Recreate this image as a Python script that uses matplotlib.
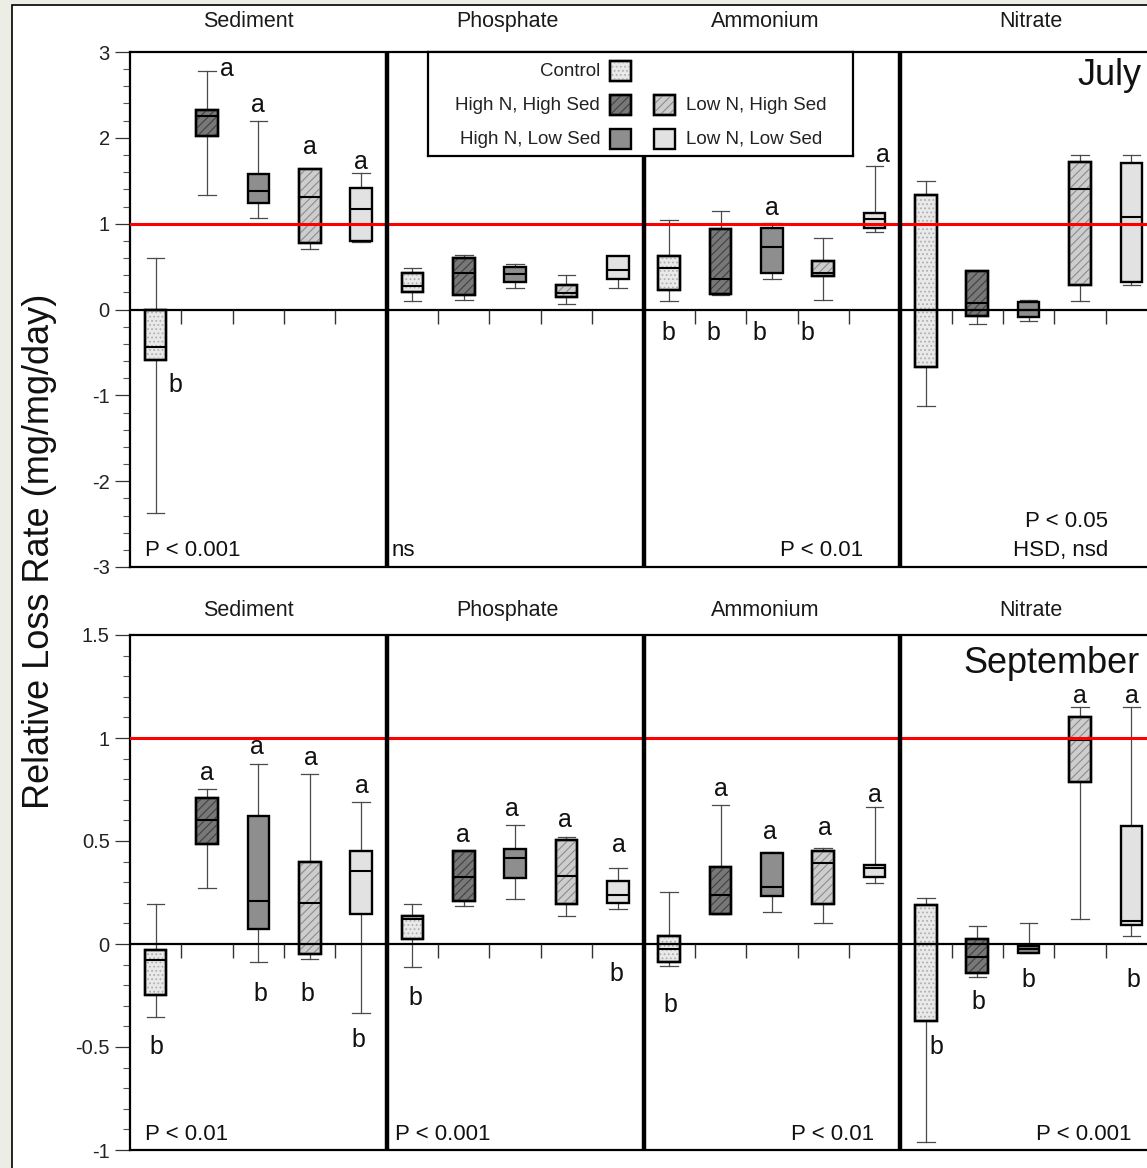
import matplotlib
matplotlib.use('Agg')
import matplotlib.pyplot as plt
import matplotlib.transforms as mtransforms
from matplotlib.patches import Rectangle, PathPatch
from matplotlib.ticker import MultipleLocator, FuncFormatter

plt.rcParams['font.family'] = ['Liberation Sans', 'DejaVu Sans']
plt.rcParams['hatch.linewidth'] = 0.8

groups = ['Sediment', 'Phosphate', 'Ammonium', 'Nitrate']
treatments = ['Control', 'High N, High Sed', 'High N, Low Sed',
              'Low N, High Sed', 'Low N, Low Sed']

# box stats per treatment: [whisker low, q1, median, q3, whisker high]
july_sediment = [[-2.37, -0.59, -0.44, -0.01, 0.60], [1.33, 2.02, 2.25, 2.32, 2.78],
                 [1.07, 1.245, 1.38, 1.575, 2.20], [0.71, 0.77, 1.31, 1.64, 1.64],
                 [0.79, 0.795, 1.17, 1.42, 1.59]]
july_phosphate = [[0.10, 0.20, 0.27, 0.42, 0.48], [0.11, 0.17, 0.43, 0.60, 0.63],
                  [0.255, 0.32, 0.41, 0.49, 0.535], [0.06, 0.15, 0.19, 0.28, 0.40],
                  [0.245, 0.35, 0.465, 0.62, 0.62]]
july_ammonium = [[0.095, 0.23, 0.48, 0.62, 1.04], [0.17, 0.185, 0.355, 0.94, 1.145],
                 [0.36, 0.425, 0.73, 0.955, 1.01], [0.11, 0.39, 0.43, 0.57, 0.83],
                 [0.90, 0.95, 1.06, 1.13, 1.67]]
july_nitrate = [[-1.12, -0.67, 0.0, 1.33, 1.50], [-0.165, -0.07, 0.07, 0.445, 0.445],
                [-0.13, -0.09, -0.01, 0.09, 0.11], [0.095, 0.29, 1.40, 1.72, 1.80],
                [0.29, 0.32, 1.08, 1.71, 1.80]]

sept_sediment = [[-0.356, -0.248, -0.078, -0.03, 0.193], [0.273, 0.485, 0.602, 0.707, 0.751],
                 [-0.089, 0.073, 0.21, 0.621, 0.874], [-0.074, -0.049, 0.20, 0.397, 0.824],
                 [-0.333, 0.144, 0.356, 0.45, 0.69]]
sept_phosphate = [[-0.11, 0.023, 0.121, 0.137, 0.194], [0.186, 0.21, 0.327, 0.451, 0.451],
                  [0.218, 0.319, 0.419, 0.46, 0.578], [0.136, 0.194, 0.332, 0.505, 0.518],
                  [0.17, 0.20, 0.24, 0.307, 0.367]]
sept_ammonium = [[-0.107, -0.086, -0.024, 0.04, 0.251], [0.144, 0.144, 0.238, 0.372, 0.675],
                 [0.157, 0.234, 0.275, 0.44, 0.448], [0.10, 0.193, 0.395, 0.453, 0.468],
                 [0.295, 0.324, 0.37, 0.383, 0.663]]
sept_nitrate = [[-0.96, -0.372, 0.0, 0.189, 0.222], [-0.159, -0.142, -0.062, 0.023, 0.089],
                [-0.045, -0.042, -0.024, -0.008, 0.10], [0.121, 0.785, 0.99, 1.103, 1.149],
                [0.04, 0.092, 0.113, 0.573, 1.149]]

july = [july_sediment, july_phosphate, july_ammonium, july_nitrate]
sept = [sept_sediment, sept_phosphate, sept_ammonium, sept_nitrate]

# Tukey letters: (group, treatment, letter, x nudge, baseline y)
july_letters = [(0, 0, 'b', 0.38, -0.96), (0, 1, 'a', 0.38, 2.72), (0, 2, 'a', 0.0, 2.30),
                (0, 3, 'a', 0.0, 1.81), (0, 4, 'a', 0.0, 1.64),
                (2, 0, 'b', -0.02, -0.36), (2, 1, 'b', -0.13, -0.36), (2, 2, 'b', -0.25, -0.36),
                (2, 3, 'b', -0.3, -0.36), (2, 2, 'a', 0.0, 1.10), (2, 4, 'a', 0.16, 1.72)]
sept_letters = [(0, 0, 'b', 0.02, -0.534), (0, 1, 'a', 0.0, 0.796), (0, 2, 'a', -0.03, 0.922),
                (0, 2, 'b', 0.04, -0.275), (0, 3, 'a', 0.02, 0.869), (0, 3, 'b', -0.05, -0.275),
                (0, 4, 'a', 0.01, 0.734), (0, 4, 'b', -0.06, -0.50),
                (1, 0, 'b', 0.05, -0.296), (1, 1, 'a', -0.01, 0.497), (1, 2, 'a', -0.06, 0.621),
                (1, 3, 'a', -0.03, 0.569), (1, 4, 'a', 0.03, 0.445), (1, 4, 'b', -0.02, -0.178),
                (2, 0, 'b', 0.03, -0.329), (2, 1, 'a', 0.0, 0.718), (2, 2, 'a', -0.04, 0.508),
                (2, 3, 'a', 0.03, 0.529), (2, 4, 'a', 0.01, 0.691),
                (3, 0, 'b', 0.2, -0.534), (3, 1, 'b', 0.03, -0.317), (3, 2, 'b', -0.01, -0.207),
                (3, 3, 'a', -0.01, 1.168), (3, 4, 'a', 0.01, 1.168), (3, 4, 'b', 0.04, -0.207)]

# p-value notes: (text, x, ha, baseline in axes fraction)
july_notes = [('P < 0.001', 0.29, 'left', 0.021), ('ns', 5.10, 'left', 0.021),
              ('P < 0.01', 14.27, 'right', 0.021), ('P < 0.05', 19.05, 'right', 0.078),
              ('HSD, nsd', 19.05, 'right', 0.021)]
sept_notes = [('P < 0.01', 0.29, 'left', 0.019), ('P < 0.001', 5.16, 'left', 0.019),
              ('P < 0.01', 14.49, 'right', 0.019), ('P < 0.001', 19.51, 'right', 0.019)]

# where each group title sits inside its 5-unit block
title_x = [2.3, 2.36, 2.37, 2.55]

fills = ['#e9e9e9', '#787878', '#8e8e8e', '#cdcdcd', '#e2e2e2']
hatches = ['....', '////', None, '////', None]
hatch_cols = ['#b0b0b0', '#404040', None, '#8c8c8c', None]

W, H = 1147, 1168
fig = plt.figure(figsize=(W / 100, H / 100), dpi=100, facecolor='#eceee6')
fig.patches.append(Rectangle((12 / W, -0.1), 2, (H - 5) / H + 0.1, transform=fig.transFigure,
                             facecolor='white', edgecolor='black', lw=1.2, zorder=-5))

ax_w = (1157 - 130) / W
ax_july = fig.add_axes([130 / W, 1 - 567 / H, ax_w, 515 / H])
ax_sept = fig.add_axes([130 / W, 1 - 1150 / H, ax_w, 515 / H])


def draw_panel(ax, data, letters, notes, ylim, major, minor, title_y, month, month_y):
    for g, grp in enumerate(data):
        stats = [dict(whislo=v[0], q1=v[1], med=v[2], q3=v[3], whishi=v[4], label='')
                 for v in grp]
        pos = [5 * g + t + 0.5 for t in range(5)]
        res = ax.bxp(stats, positions=pos, widths=0.42, capwidths=0.34, patch_artist=True,
                     showfliers=False, manage_ticks=False)
        for t, box in enumerate(res['boxes']):
            box.set_facecolor(fills[t])
            box.set_edgecolor('black')
            box.set_linewidth(1.7)
            box.set_zorder(3)
            if hatches[t]:
                ax.add_patch(PathPatch(box.get_path(), fill=False, hatch=hatches[t],
                                       edgecolor=hatch_cols[t], lw=0, zorder=3.05))
                outline = PathPatch(box.get_path(), fill=False, edgecolor='black',
                                    lw=1.7, zorder=3.1)
                ax.add_patch(outline)
        for ln in res['medians']:
            ln.set_color('black')
            ln.set_linewidth(1.5)
            ln.set_zorder(3.2)
        for ln in res['whiskers'] + res['caps']:
            ln.set_color('#4a4a4a')
            ln.set_linewidth(0.9)
            ln.set_zorder(2.5)

    ax.set_xlim(0, 20)
    ax.set_ylim(*ylim)
    ax.set_xticks([])
    ax.yaxis.set_major_locator(MultipleLocator(major))
    ax.yaxis.set_minor_locator(MultipleLocator(minor))
    ax.yaxis.set_major_formatter(FuncFormatter(lambda v, p: '%g' % round(v, 3)))
    ax.tick_params(axis='y', which='major', direction='out', length=11, width=0.9,
                   color='#333333', labelsize=14.5, pad=3.5, labelcolor='#222222')
    ax.tick_params(axis='y', which='minor', direction='out', length=5, width=0.8,
                   color='#555555')
    for s in ax.spines.values():
        s.set_linewidth(1.6)
        s.set_color('black')

    for x in (5, 10, 15):
        ax.axvline(x, color='black', lw=3.2, zorder=6)
    ax.axhline(0, color='black', lw=1.6, zorder=5)
    ax.axhline(1, color='#ff0000', lw=2.2, zorder=5)
    ticks = [x for x in range(1, 20) if x % 5 != 0]
    ax.plot(ticks, [0] * len(ticks), ls='none', marker=3, ms=10, mew=1.0,
            color='#333333', zorder=5)

    tr = mtransforms.blended_transform_factory(ax.transData, ax.transAxes)
    for g, grp in enumerate(groups):
        ax.text(5 * g + title_x[g], title_y, grp, transform=tr, ha='center', va='baseline',
                fontsize=15.5, color='#1a1a1a')
    for g, t, letter, dx, y in letters:
        ax.text(5 * g + t + 0.5 + dx, y, letter, ha='center', va='baseline',
                fontsize=18, color='#111111', zorder=7)
    for txt, x, ha, y in notes:
        ax.text(x, y, txt, transform=tr, ha=ha, va='baseline', fontsize=16,
                color='#111111', zorder=7)
    ax.text(0.9854 if month == 'July' else 0.9834, month_y, month, transform=ax.transAxes,
            ha='right', va='baseline', fontsize=26, color='#111111', zorder=7)


draw_panel(ax_july, july, july_letters, july_notes, (-3, 3), 1, 0.2, 1.049, 'July', 0.936)
draw_panel(ax_sept, sept, sept_letters, sept_notes, (-1, 1.5), 0.5, 0.1, 1.036,
           'September', 0.9256)

fig.text(40 / W, 1 - 551 / H, 'Relative Loss Rate (mg/mg/day)', rotation=90,
         ha='center', va='center', fontsize=26, color='#111111')

# legend drawn by hand to keep the two-column layout
lg = fig.add_axes([428 / W, 1 - 156 / H, 425 / W, 104 / H], zorder=10)
lg.set_xlim(0, 1)
lg.set_ylim(0, 1)
lg.set_xticks([])
lg.set_yticks([])
for s in lg.spines.values():
    s.set_linewidth(1.6)
legend_slots = [(0, 0.428, 0.817, 'right'), (1, 0.428, 0.49, 'right'),
                (2, 0.428, 0.163, 'right'), (3, 0.532, 0.49, 'left'), (4, 0.532, 0.163, 'left')]
sw_w, sw_h = 0.05, 0.2
for t, x, y, side in legend_slots:
    lg.add_patch(Rectangle((x, y - sw_h / 2), sw_w, sw_h, facecolor=fills[t],
                           edgecolor='black', lw=1.7, zorder=2))
    if hatches[t]:
        lg.add_patch(Rectangle((x, y - sw_h / 2), sw_w, sw_h, fill=False, hatch=hatches[t],
                               edgecolor=hatch_cols[t], lw=0, zorder=2.1))
        lg.add_patch(Rectangle((x, y - sw_h / 2), sw_w, sw_h, fill=False,
                               edgecolor='black', lw=1.7, zorder=2.2))
    if side == 'right':
        lg.text(x - 0.023, y, treatments[t], ha='right', va='center', fontsize=13.5,
                color='#222222')
    else:
        lg.text(x + sw_w + 0.024, y, treatments[t], ha='left', va='center', fontsize=13.5,
                color='#222222')

fig.savefig('out.png', dpi=100, facecolor=fig.get_facecolor())
